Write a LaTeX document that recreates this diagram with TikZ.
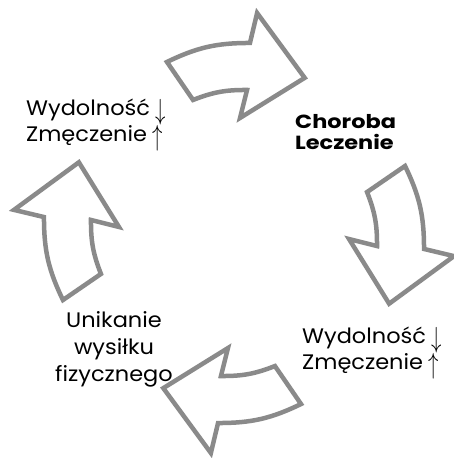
\documentclass[tikz,border=0pt]{standalone}
\usepackage{fontspec}
\setmainfont[FakeStretch=1.07, BoldFeatures={FakeStretch=1.18}]{Poppins}
\usepackage{xcolor}
\usepackage{tikz}
\usetikzlibrary{positioning}

\definecolor{arrowgray}{HTML}{8A8A8A}
\newcommand{\dnarr}{\hspace{0.25em}\raisebox{-0.35ex}{\scalebox{1}[1.4]{$\downarrow$}}}
\newcommand{\uparr}{\hspace{0.25em}\raisebox{-0.35ex}{\scalebox{1}[1.4]{$\uparrow$}}}

\begin{document}
\begin{tikzpicture}[x=1pt, y=1pt]
    \tikzstyle{cyclearrow} = [draw=arrowgray, fill=white, line width=4.5pt]
    \tikzstyle{label} = [inner sep=0pt, align=left, font=\fontsize{21}{26}\selectfont]
    \tikzstyle{boldlabel} = [inner sep=0pt, align=left, font=\fontsize{19}{21}\selectfont\bfseries]

    \useasboundingbox (-234,-225) rectangle (220,233);

    \foreach \i in {0,1,2,3}
        \draw [cyclearrow, rotate=-90*\i] (111.4:183.7) to[bend left=13] (85.2:190.7) -- (84:221.2)
            -- (65.5:170.5) -- (87:115.2) -- (84.8:143.6) to[bend right=11] (107.1:139.2) -- cycle;

    \node [label, anchor=north west] (before) at (-208,134) {Wydolność\dnarr\\Zmęczenie\uparr};
    \node [boldlabel, anchor=north west] (illness) at (61,119) {Choroba\\Leczenie};
    \node [label, anchor=north west] (after) at (68,-94) {Wydolność\dnarr\\Zmęczenie\uparr};
    \node [label, align=center, anchor=north, font=\fontsize{21}{27}\selectfont] (avoid) at (-120,-78) {Unikanie\\wysiłku\\fizycznego};
\end{tikzpicture}
\end{document}
